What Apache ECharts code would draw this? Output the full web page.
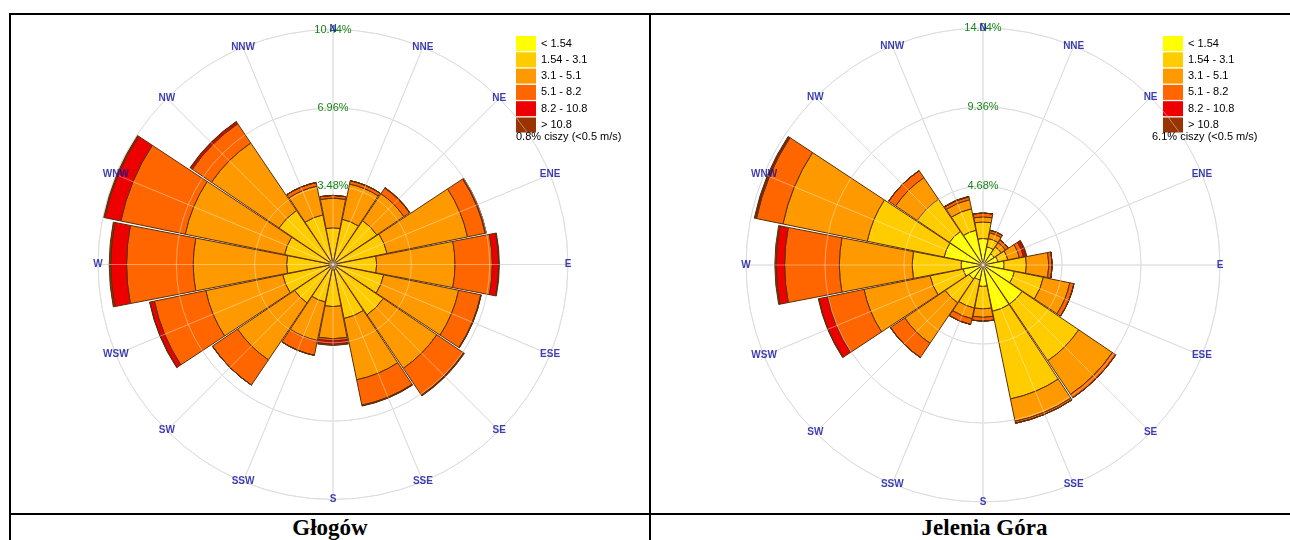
<!DOCTYPE html>
<html>
<head>
<meta charset="utf-8">
<script src="https://cdn.jsdelivr.net/npm/echarts@6/dist/echarts.min.js"></script>
<style>
  html, body { margin: 0; padding: 0; background: #fff; width: 1290px; height: 540px; overflow: hidden; position: relative; }
  .rule { position: absolute; background: #000; }
  .chart { position: absolute; overflow: hidden; }
  .cap { position: absolute; top: 517px; line-height: 22px; font-family: 'Liberation Serif', 'Times New Roman', serif; font-weight: bold; font-size: 23px; text-align: center; color: #000; white-space: nowrap; }
</style>
</head>
<body>
<!-- table frame (the right-hand cell runs on past the page edge) -->
<div class="rule" style="left:9px;top:13px;width:1290px;height:2px"></div>
<div class="rule" style="left:9px;top:13px;width:2px;height:540px"></div>
<div class="rule" style="left:649px;top:13px;width:2px;height:540px"></div>
<div class="rule" style="left:9px;top:513px;width:1290px;height:2px"></div>

<div id="roseGlogow" class="chart" style="left:11px;top:15px;width:638px;height:487px"></div>
<div id="roseJelenia" class="chart" style="left:651px;top:15px;width:639px;height:490px"></div>

<div class="cap" style="left:11px;width:638px">Głogów</div>
<div class="cap" style="left:651px;width:667px">Jelenia Góra</div>

<script>
// Wind directions, clockwise from north
const directions = ['N', 'NNE', 'NE', 'ENE', 'E', 'ESE', 'SE', 'SSE', 'S', 'SSW', 'SW', 'WSW', 'W', 'WNW', 'NW', 'NNW'];
// Wind speed classes (m/s)
const speedClasses = ['< 1.54', '1.54 - 3.1', '3.1 - 5.1', '5.1 - 8.2', '8.2 - 10.8', '> 10.8'];
const speedColors = ['#FFFF00', '#FFCC00', '#FF9900', '#FF6600', '#EE0000', '#993300'];

// Głogów: frequency (%) of each speed class per direction
const glogowClass1 = [0.2, 0.2, 0.2, 0.2, 0.2, 0.2, 0.2, 0.25, 0.25, 0.2, 0.2, 0.2, 0.2, 0.2, 0.2, 0.2];
const glogowClass2 = [1.43, 1.85, 2.15, 2.25, 1.74, 2.1, 2.5, 2.2, 1.62, 1.5, 1.86, 2.08, 1.86, 2.0, 2.7, 2.05];
const glogowClass3 = [1.32, 1.6, 1.45, 3.65, 3.48, 3.4, 2.87, 2.78, 1.43, 1.75, 3.06, 3.49, 4.15, 4.5, 3.62, 1.3];
const glogowClass4 = [0.12, 0.15, 0.3, 0.8, 1.66, 1.0, 1.43, 1.15, 0.1, 0.67, 1.35, 2.33, 2.96, 2.92, 1.03, 0.17];
const glogowClass5 = [0, 0, 0.02, 0.05, 0.28, 0.02, 0.02, 0.02, 0.15, 0, 0, 0.2, 0.7, 0.73, 0.1, 0];
const glogowClass6 = [0, 0, 0, 0, 0.03, 0, 0.03, 0.02, 0.05, 0, 0, 0.02, 0.07, 0.05, 0.02, 0];
const glogowCalm = 0.8;
const glogowRings = [3.48, 6.96, 10.44];

// Jelenia Góra: frequency (%) of each speed class per direction
const jeleniaClass1 = [1.57, 1.1, 0.8, 0.9, 1.25, 1.9, 2.8, 2.8, 1.27, 0.9, 1.0, 1.2, 1.3, 2.35, 2.4, 2.1];
const jeleniaClass2 = [0.98, 0.5, 0.5, 0.6, 1.32, 1.75, 4.05, 5.3, 1.33, 1.7, 1.7, 2.0, 2.9, 4.65, 2.3, 1.3];
const jeleniaClass3 = [0.3, 0.35, 0.3, 0.7, 1.33, 1.6, 2.4, 1.35, 0.5, 0.65, 2.9, 4.0, 4.31, 5.1, 1.55, 0.55];
const jeleniaClass4 = [0.23, 0.15, 0.2, 0.25, 0.2, 0.25, 0.25, 0.12, 0.23, 0.35, 1.02, 2.2, 3.24, 1.6, 0.5, 0.17];
const jeleniaClass5 = [0, 0, 0, 0.15, 0, 0, 0, 0, 0, 0, 0, 0.53, 0.5, 0.08, 0, 0.03];
const jeleniaClass6 = [0, 0, 0, 0.05, 0, 0, 0, 0, 0, 0, 0, 0.03, 0.08, 0.05, 0, 0];
const jeleniaCalm = 6.1;
const jeleniaRings = [4.68, 9.36, 14.04];

const FONT = "'Liberation Sans', Arial, sans-serif";

function roseOption(cfg) {
  const maxR = cfg.rings[cfg.rings.length - 1];
  const step = cfg.rings[0];
  const polarBox = { center: cfg.center, radius: cfg.radius };
  const valueAngle = (idx, lineColor, z) => ({
    polarIndex: idx, type: 'value', min: 0, max: 360, interval: 22.5, startAngle: 90, z: z,
    axisLine: { show: false }, axisTick: { show: false }, axisLabel: { show: false },
    splitLine: { show: true, lineStyle: { color: lineColor, width: 1 } }
  });

  const bars = cfg.classes.map((vals, k) => ({
    type: 'bar', name: speedClasses[k], coordinateSystem: 'polar', polarIndex: 1,
    stack: 'wind', data: vals, z: 2, barCategoryGap: '3%',
    itemStyle: { color: speedColors[k], borderColor: '#5a2e0a', borderWidth: 1 },
    emphasis: { disabled: true }
  }));

  // direction names sitting on the outer ring
  const dirLabels = {
    type: 'scatter', coordinateSystem: 'polar', polarIndex: 2, z: 8, silent: true,
    symbolSize: 1, itemStyle: { color: 'transparent' },
    data: directions.map((d, i) => ({ name: d, value: [maxR, i * 22.5] })),
    label: { show: true, position: 'inside', formatter: '{b}', color: '#0c0c9c',
      fontSize: 10, fontWeight: 'bold', fontFamily: FONT }
  };

  return {
    animation: false,
    legend: {
      data: speedClasses, orient: 'vertical', left: cfg.legendLeft, top: 21, padding: 0,
      itemWidth: 20, itemHeight: 15, itemGap: 1.3, icon: 'rect', selectedMode: false,
      itemStyle: { borderWidth: 0 },
      textStyle: { fontSize: 11, color: '#000', fontFamily: FONT }
    },
    title: {
      text: cfg.calm.toFixed(1) + '% ciszy (<0.5 m/s)', left: cfg.calmLeft, top: 116, padding: 0,
      textStyle: { fontSize: 11, fontWeight: 'normal', color: '#000', fontFamily: FONT }
    },
    polar: [polarBox, polarBox, polarBox],
    angleAxis: [
      valueAngle(0, '#c6c6c6', 0),
      { polarIndex: 1, type: 'category', data: directions, startAngle: 101.25, show: false },
      valueAngle(2, 'rgba(255,255,255,0.4)', 5)
    ],
    radiusAxis: [
      { polarIndex: 0, type: 'value', min: 0, max: maxR, interval: step, z: 0,
        axisLine: { show: false }, axisTick: { show: false }, axisLabel: { show: false },
        splitLine: { show: true, lineStyle: { color: '#c6c6c6', width: 1 } } },
      { polarIndex: 1, type: 'value', min: 0, max: maxR, show: false },
      { polarIndex: 2, type: 'value', min: 0, max: maxR, interval: step, z: 6,
        axisLine: { show: false }, axisTick: { show: false },
        splitLine: { show: true, lineStyle: { color: 'rgba(255,255,255,0.4)', width: 1 } },
        axisLabel: { show: true, margin: 0, align: 'center', verticalAlign: 'middle',
          color: '#1a841a', fontSize: 11, fontFamily: FONT,
          formatter: v => (v === 0 ? '' : v.toFixed(2) + '%') } }
    ],
    series: bars.concat([dirLabels])
  };
}

const glogowChart = echarts.init(document.getElementById('roseGlogow'), null, { renderer: 'canvas' });
glogowChart.setOption(roseOption({
  classes: [glogowClass1, glogowClass2, glogowClass3, glogowClass4, glogowClass5, glogowClass6],
  rings: glogowRings, calm: glogowCalm,
  center: [322, 249.5], radius: 235, legendLeft: 505, calmLeft: 505
}));

const jeleniaChart = echarts.init(document.getElementById('roseJelenia'), null, { renderer: 'canvas' });
jeleniaChart.setOption(roseOption({
  classes: [jeleniaClass1, jeleniaClass2, jeleniaClass3, jeleniaClass4, jeleniaClass5, jeleniaClass6],
  rings: jeleniaRings, calm: jeleniaCalm,
  center: [332, 250], radius: 237, legendLeft: 512, calmLeft: 501
}));
</script>
</body>
</html>
